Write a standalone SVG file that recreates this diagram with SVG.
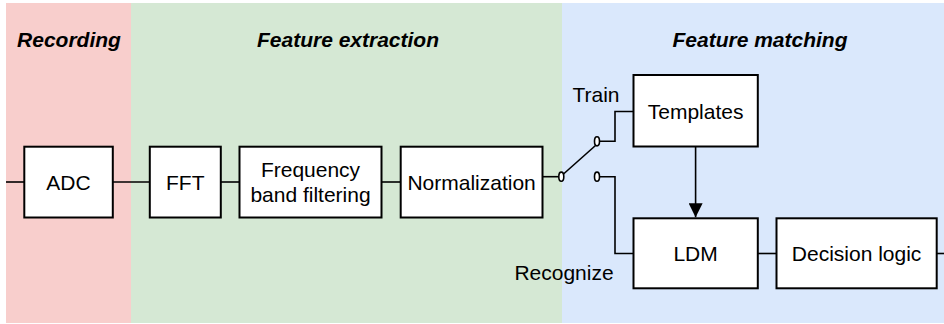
<svg xmlns="http://www.w3.org/2000/svg" width="944" height="324" viewBox="0 0 944 324">
<style>
.box{fill:#fff;stroke:#000;stroke-width:2}
.lbl{font-family:"Liberation Sans",Arial,sans-serif;font-size:21px;fill:#000}
.ttl{font-family:"Liberation Sans",Arial,sans-serif;font-size:21px;font-weight:bold;font-style:italic;fill:#000}
.ln{fill:none;stroke:#000;stroke-width:1.6}
.ct{fill:#fff;stroke:#000;stroke-width:1.6}
</style>
<defs>
<marker id="arr" viewBox="0 0 14 14" refX="14" refY="7" markerWidth="14" markerHeight="14" markerUnits="userSpaceOnUse" orient="auto">
<path d="M0,0 L14,7 L0,14 Z" fill="#000"/>
</marker>
</defs>
<rect width="944" height="324" fill="#fff"/>
<g id="lanes">
<rect x="6" y="3" width="125" height="320" fill="#f8cecc"/>
<rect x="131" y="3" width="431" height="320" fill="#d5e8d4"/>
<rect x="562" y="3" width="382" height="320" fill="#dae8fc"/>
<text class="ttl" x="69" y="47" text-anchor="middle">Recording</text>
<text class="ttl" x="348" y="47" text-anchor="middle">Feature extraction</text>
<text class="ttl" x="760" y="47" text-anchor="middle">Feature matching</text>
</g>
<g id="connectors">
<line class="ln" x1="6" y1="182" x2="24" y2="182"/>
<line class="ln" x1="113" y1="182" x2="150" y2="182"/>
<line class="ln" x1="221" y1="182" x2="239.5" y2="182"/>
<line class="ln" x1="381.5" y1="182" x2="400.5" y2="182"/>
<line class="ln" x1="542.5" y1="176.7" x2="558.8" y2="176.7"/>
<line class="ln" x1="563.5" y1="174" x2="595.5" y2="145.5"/>
<polyline class="ln" points="599.5,141.3 615,141.3 615,111.5 633.5,111.5"/>
<polyline class="ln" points="599.5,176.7 615,176.7 615,253.5 633.5,253.5"/>
<line class="ln" x1="695.6" y1="146.5" x2="695.6" y2="217.3" marker-end="url(#arr)"/>
<line class="ln" x1="757.8" y1="253.5" x2="776.5" y2="253.5"/>
<line class="ln" x1="936.7" y1="253.5" x2="944" y2="253.5"/>
<ellipse class="ct" cx="561.3" cy="176.7" rx="2.5" ry="4.6"/>
<ellipse class="ct" cx="597" cy="141.3" rx="2.5" ry="4.6"/>
<ellipse class="ct" cx="597" cy="176.7" rx="2.5" ry="4.6"/>
<text class="lbl" x="596" y="101.5" text-anchor="middle">Train</text>
<text class="lbl" x="564" y="280" text-anchor="middle">Recognize</text>
</g>
<g id="adc">
<rect class="box" x="24.3" y="146.7" width="88.5" height="70.8"/>
<text class="lbl" x="68.5" y="189.5" text-anchor="middle">ADC</text>
</g>
<g id="fft">
<rect class="box" x="149.8" y="146.7" width="71" height="70.8"/>
<text class="lbl" x="185.3" y="189.5" text-anchor="middle">FFT</text>
</g>
<g id="filter">
<rect class="box" x="239.5" y="146.7" width="142" height="70.8"/>
<text class="lbl" x="310.5" y="176.7" text-anchor="middle">Frequency</text>
<text class="lbl" x="310.5" y="201.7" text-anchor="middle">band filtering</text>
</g>
<g id="norm">
<rect class="box" x="400.7" y="146.7" width="141.8" height="70.8"/>
<text class="lbl" x="471.6" y="189.5" text-anchor="middle">Normalization</text>
</g>
<g id="templates">
<rect class="box" x="633.5" y="75" width="124.3" height="71.5"/>
<text class="lbl" x="695.6" y="118.5" text-anchor="middle">Templates</text>
</g>
<g id="ldm">
<rect class="box" x="633.5" y="218.3" width="124.3" height="70"/>
<text class="lbl" x="695.6" y="261" text-anchor="middle">LDM</text>
</g>
<g id="decision">
<rect class="box" x="776.5" y="218.3" width="160.2" height="70"/>
<text class="lbl" x="856.6" y="261" text-anchor="middle">Decision logic</text>
</g>
</svg>
